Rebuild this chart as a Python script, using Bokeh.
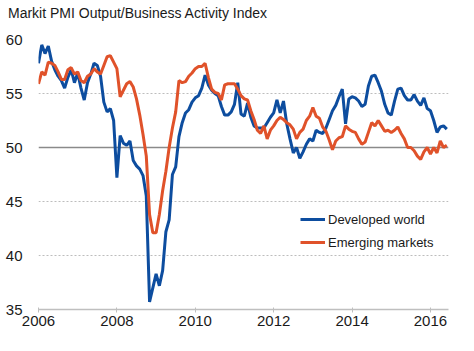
import pandas as pd
from bokeh.plotting import figure
from bokeh.layouts import column
from bokeh.models import Range1d, FixedTicker, Legend, LegendItem, Grid, Div
from bokeh.embed import file_html
from bokeh.resources import INLINE

title_text = "Markit PMI Output/Business Activity Index"
series_names = ["Developed world", "Emerging markets"]
year_ticks = [2006, 2008, 2010, 2012, 2014, 2016]
value_ticks = [35, 40, 45, 50, 55, 60]
reference_level = [50]

months = pd.date_range("2006-01-01", periods=126, freq="MS")

developed = [
    57.8, 59.5, 58.7, 59.4, 58.0, 57.2, 56.6, 56.2, 55.5, 56.5, 57.2, 56.0,  # 2006
    56.9, 55.5, 54.4, 56.0, 56.8, 57.8, 57.6, 56.6, 54.2, 53.3, 53.6, 52.5,  # 2007
    47.2, 51.1, 50.4, 50.2, 50.6, 48.8, 48.3, 48.0, 47.4, 45.5, 35.7, 37.0,  # 2008
    38.3, 37.2, 38.6, 42.2, 43.3, 47.5, 48.2, 51.0, 52.3, 53.2, 53.5, 54.2,  # 2009
    54.6, 54.8, 55.5, 56.7, 55.8, 55.3, 55.0, 54.8, 53.8, 53.0, 53.0, 53.3,  # 2010
    54.0, 56.0, 53.1, 52.9, 54.1, 52.8, 52.0, 51.8, 51.8, 51.8, 52.3, 52.8,  # 2011
    53.2, 54.4, 53.2, 54.3, 52.2, 50.8, 49.5, 50.0, 49.0, 49.6, 50.3, 50.8,  # 2012
    50.6, 51.6, 51.4, 51.3, 51.8, 52.6, 53.4, 53.9, 54.7, 55.4, 52.2, 54.5,  # 2013
    54.7, 54.6, 54.3, 53.8, 54.0, 55.7, 56.6, 56.7, 56.0, 55.2, 54.0, 53.2,  # 2014
    53.0, 54.3, 55.4, 55.5, 54.8, 54.4, 54.4, 54.9, 54.3, 53.9, 54.6, 53.6,  # 2015
    53.4, 52.5, 51.4, 51.9, 52.0, 51.7,                                      # 2016
]

emerging = [
    55.9, 57.0, 56.7, 57.9, 57.8, 57.6, 57.0, 56.3, 56.3, 57.2, 57.4, 56.8,  # 2006
    57.0, 56.2, 56.0, 56.6, 56.8, 57.3, 57.0, 56.8, 57.6, 58.4, 58.5, 57.9,  # 2007
    57.3, 54.7, 55.3, 55.9, 56.1, 55.6, 54.5, 53.0, 51.2, 49.2, 43.8, 42.1,  # 2008
    42.1, 43.8, 46.0, 47.8, 50.0, 51.8, 53.3, 56.2, 56.0, 56.1, 56.6, 56.9,  # 2009
    57.3, 57.5, 57.5, 57.8, 56.5, 55.4, 55.1, 55.0, 54.4, 55.8, 55.9, 55.9,  # 2010
    55.9, 55.4, 54.8, 54.5, 54.4, 53.4, 52.6, 51.6, 51.3, 52.0, 50.8, 51.6,  # 2011
    52.0, 52.5, 52.8, 52.6, 52.3, 52.1, 51.7, 50.8, 51.4, 51.7, 52.5, 52.9,  # 2012
    53.7, 52.9, 52.7, 51.9, 51.5, 50.7, 49.8, 50.6, 50.9, 51.0, 52.0, 51.7,  # 2013
    51.5, 51.4, 50.8, 50.3, 50.5, 51.4, 52.3, 52.0, 52.5, 52.0, 51.5, 51.6,  # 2014
    51.4, 51.6, 51.9, 51.3, 50.8, 50.0, 50.0, 49.7, 49.2, 48.9, 49.6, 50.0,  # 2015
    49.4, 50.0, 49.5, 50.6, 50.0, 50.2,                                      # 2016
]

x = [d.year + (d.month - 1) / 12 for d in months]

FONT = "Liberation Sans"
TEXT = "#1a1a1a"
BLUE = "#0d4d9f"
RED = "#e0522a"

header = Div(text=title_text, width=466, height=25, margin=(5, 0, 0, 8),
             styles={"font-family": FONT, "font-size": "14px", "color": TEXT,
                     "line-height": "16px", "white-space": "nowrap"})

p = figure(width=474, height=321, output_backend="svg", toolbar_location=None,
           title=None,
           x_range=Range1d(2006, 2016.46), y_range=Range1d(35, 60),
           min_border_left=38, min_border_right=26, min_border_top=9, min_border_bottom=42)
p.outline_line_color = None
p.background_fill_color = "white"
p.border_fill_color = "white"

# axes
p.xaxis.ticker = FixedTicker(ticks=year_ticks)
p.xaxis.axis_line_color = "#bfbfbf"
p.xaxis.axis_line_width = 1.5
p.xaxis.major_tick_line_color = "#bfbfbf"
p.xaxis.major_tick_in = 2
p.xaxis.major_tick_out = 3
p.xaxis.minor_tick_line_color = None
p.xaxis.major_label_standoff = 3
p.xaxis.major_label_text_font = FONT
p.xaxis.major_label_text_font_size = "15px"
p.xaxis.major_label_text_color = TEXT

p.yaxis.ticker = FixedTicker(ticks=value_ticks)
p.yaxis.axis_line_color = None
p.yaxis.major_tick_line_color = None
p.yaxis.minor_tick_line_color = None
p.yaxis.major_label_standoff = 10
p.yaxis.major_label_text_font = FONT
p.yaxis.major_label_text_font_size = "15px"
p.yaxis.major_label_text_color = TEXT

p.xgrid.grid_line_color = None
p.ygrid.ticker = FixedTicker(ticks=[v for v in value_ticks if v not in reference_level and v != value_ticks[0]])
p.ygrid.grid_line_color = "#bdbdbd"
p.ygrid.grid_line_dash = "2 2"
p.ygrid.grid_line_width = 1

ref = Grid(dimension=1, ticker=FixedTicker(ticks=reference_level),
           grid_line_color="#8a8a8a", grid_line_width=1.5)
p.add_layout(ref)

r1 = p.line(x, developed, line_color=BLUE, line_width=3)
r2 = p.line(x, emerging, line_color=RED, line_width=3)

legend = Legend(items=[LegendItem(label=series_names[0], renderers=[r1]),
                       LegendItem(label=series_names[1], renderers=[r2])],
                location=(262, 57), orientation="vertical",
                border_line_color=None, background_fill_alpha=0,
                padding=0, margin=0, spacing=3,
                glyph_width=25, glyph_height=20, label_height=20,
                label_standoff=3, label_text_font=FONT,
                label_text_font_size="13px", label_text_color=TEXT)
p.add_layout(legend, "center")

layout = column(header, p, spacing=0)

open("out.html", "w").write(file_html(layout, INLINE))
